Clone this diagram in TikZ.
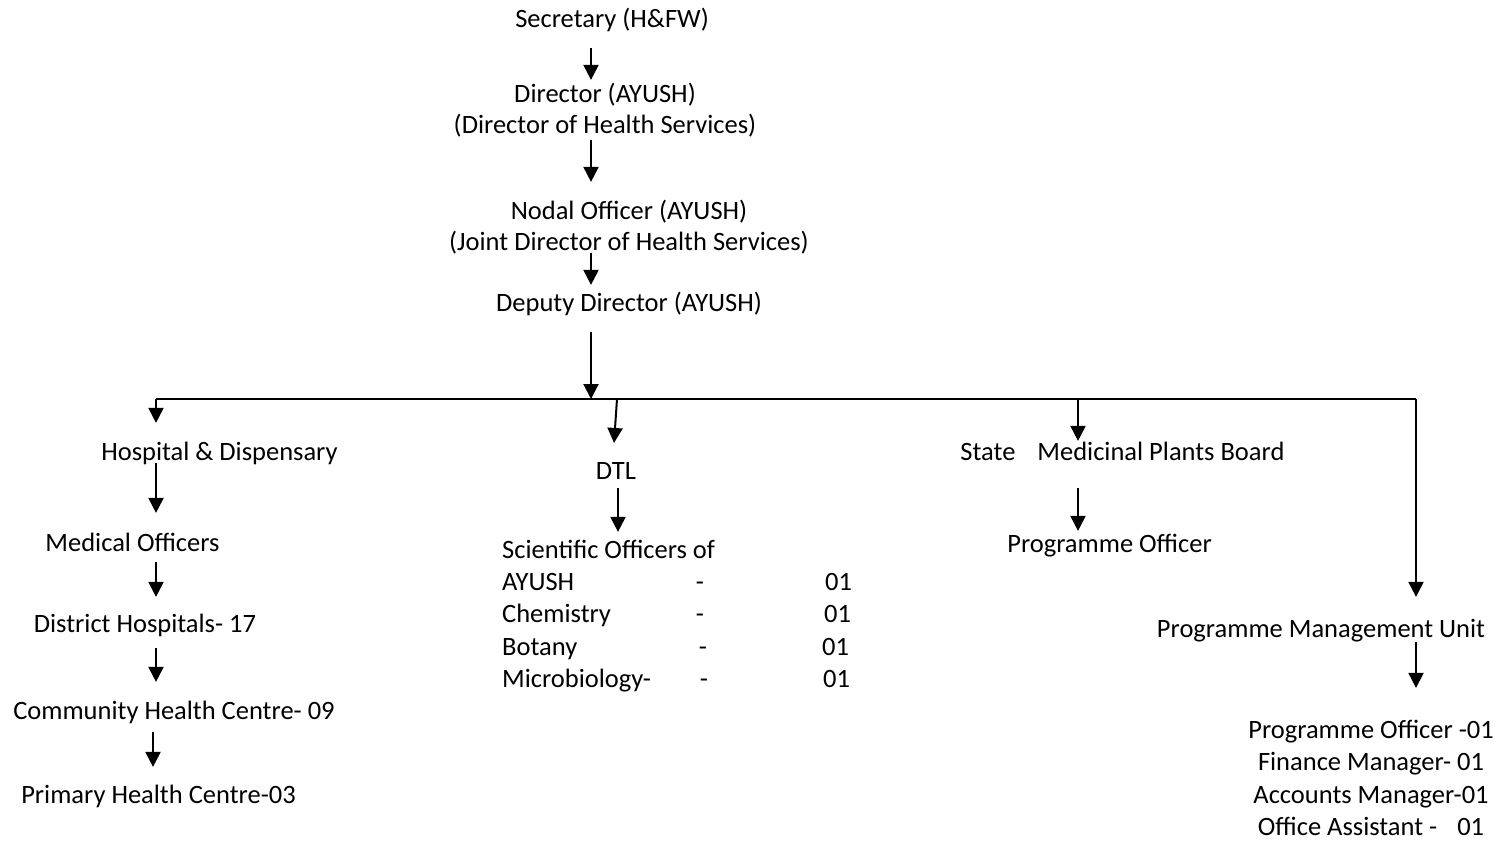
\documentclass[tikz,border=0pt]{standalone}
\usepackage{fontspec}
\setmainfont{Carlito}
\usetikzlibrary{arrows.meta}

\begin{document}
\begin{tikzpicture}[x=1pt,y=-1pt]
				\tikzstyle{every node}=[font=\fontsize{26.5}{32}\selectfont,inner sep=0pt,
				text height=21.5pt,text depth=2.3pt]
				\tikzstyle{arr}=[-{Triangle[width=15pt,length=15pt]},line width=2pt]
				\tikzstyle{bar}=[line width=2pt]
				\useasboundingbox (0,0) rectangle (1503,840);
				\coordinate (spine) at (591,0);
				\coordinate (barL) at (156,399);
				\coordinate (barD) at (617,399);
				\coordinate (barS) at (1078,399);
				\coordinate (barR) at (1416,399);
				\coordinate (bar) at (591,399);
				\coordinate (dcol) at (618,0);
				\node (sec) at (612,18) {Secretary (H\&FW)};
				\node (dir1) at (605,93) {Director (AYUSH)};
				\node (dir2) at (605,124) {(Director of Health Services)};
				\node (nod1) at (629,210) {Nodal Officer (AYUSH)};
				\node (nod2) at (629,241) {(Joint Director of Health Services)};
				\node (dep) at (629,302) {Deputy Director (AYUSH)};
				\node (hosp) at (219.5,451) {Hospital \& Dispensary};
				\node (med) at (132.5,542) {Medical Officers};
				\node (dist) at (145,623) {District Hospitals- 17};
				\node (chc) at (174,710) {Community Health Centre- 09};
				\node (phc) at (158.5,794) {Primary Health Centre-03};
				\node (dtl) at (616,470) {DTL};
				\node[anchor=west] (sci) at (502,549) {Scientific Officers of};
				\foreach \lab/\yy/\dx/\nx [count=\i] in {AYUSH/581/700/825,Chemistry/613/700/824,
					Botany/646/703/822,Microbiology-/678/704/823}{
					\node[anchor=west] (row\i) at (502,\yy) {\lab};
					\node (dash\i) at (\dx,\yy) {-};
					\node[anchor=west] (num\i) at (\nx,\yy) {01};
				}
				\node (smpb) at (1122.5,451) {State\hspace{22pt}Medicinal Plants Board};
				\node (po) at (1109.5,543) {Programme Officer};
				\node (pmu) at (1321,628) {Programme Management Unit};
				\foreach \lab/\yy [count=\i] in {Programme Officer -01/729,Finance Manager- 01/761,
					Accounts Manager-01/794,Office Assistant -\hspace{14pt} 01/826}{
					\node (staff\i) at (1371,\yy) {\lab};
				}
				\draw[arr,shorten <=18pt,shorten >=1pt] (sec.south -| spine) -- (dir1.north -| spine);
				\draw[arr,shorten <=4pt,shorten >=16pt] (dir2.south -| spine) -- (nod1.north -| spine);
				\draw[arr,shorten >=5pt] (nod2.south -| spine) -- (dep.north -| spine);
				\draw[arr,shorten <=18pt] (dep.south -| spine) -- (bar);
				\draw[bar] (barL) -- (barR);
				\draw[arr,shorten >=16pt] (barL) -- (hosp.north -| barL);
				\draw[arr,shorten >=17pt] (hosp.south -| barL) -- (med.north -| barL);
				\draw[arr,shorten <=8pt,shorten >=14pt] (med.south -| barL) -- (dist.north -| barL);
				\draw[arr,shorten <=13pt,shorten >=16pt] (dist.south -| barL) -- (chc.north -| barL);
				\draw[arr,shorten <=10pt,shorten >=15pt] ([xshift=-3pt]chc.south -| barL) -- ([xshift=-3pt]phc.north -| barL);
				\draw[arr,shorten >=15pt] (barD) -- ([xshift=-3pt]dtl.north);
				\draw[arr,shorten <=6pt,shorten >=5pt] (dtl.south -| dcol) -- (sci.north -| dcol);
				\draw[arr,shorten >=-2pt] (barS) -- (smpb.north -| barS);
				\draw[arr,shorten <=25pt] (smpb.south -| barS) -- (po.north -| barS);
				\draw[arr,shorten >=19pt] (barR) -- (pmu.north -| barR);
				\draw[arr,shorten <=2pt,shorten >=29pt] (pmu.south -| barR) -- (staff1.north -| barR);
\end{tikzpicture}
\end{document}
